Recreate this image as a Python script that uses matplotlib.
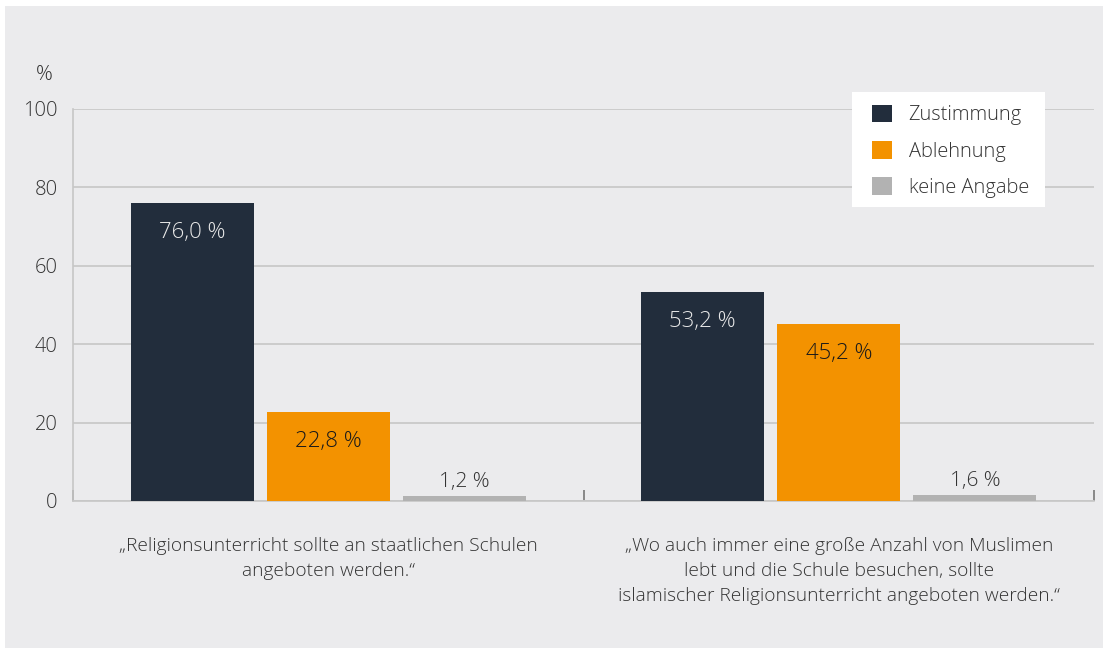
import numpy as np
import matplotlib.pyplot as plt
from matplotlib.patches import Patch, Rectangle

# Daten
kategorien = ['„Religionsunterricht sollte an staatlichen Schulen\nangeboten werden.“',
              '„Wo auch immer eine große Anzahl von Muslimen\nlebt und die Schule besuchen, sollte\nislamischer Religionsunterricht angeboten werden.“']
serien = ['Zustimmung', 'Ablehnung', 'keine Angabe']
zustimmung = [76.0, 53.2]
ablehnung = [22.8, 45.2]
keine_angabe = [1.2, 1.6]
werte = [zustimmung, ablehnung, keine_angabe]

farben = ['#222d3c', '#f39200', '#b2b2b2']
label_farben = ['#e8e8e8', '#1a1a1a', '#333333']
bg = '#ebebed'

plt.rcParams['font.family'] = ['Open Sans', 'DejaVu Sans']
plt.rcParams['font.weight'] = 'light'

fig = plt.figure(figsize=(11.03, 6.48), dpi=100)
fig.patch.set_facecolor('white')
fig.patches.append(Rectangle((5 / 1103, 0), 1, 1 - 6 / 648, transform=fig.transFigure,
                             facecolor=bg, edgecolor='none', zorder=-10))

ax = fig.add_axes([73 / 1103, 1 - 501 / 648, (1094 - 73) / 1103, (501 - 109) / 648])
ax.set_facecolor(bg)

x = np.arange(len(kategorien))
breite = 0.241
schritt = 0.2667

for i, (serie, vals) in enumerate(zip(serien, werte)):
    pos = x + (i - 1) * schritt
    ax.bar(pos, vals, width=breite, color=farben[i], label=serie, zorder=3)
    for p, v in zip(pos, vals):
        txt = f'{v:.1f} %'.replace('.', ',')
        if v > 10:
            ax.text(p, v - 7.5, txt, ha='center', va='center', fontsize=16,
                    color=label_farben[i], zorder=4)
        else:
            ax.text(p, v + 3.6, txt, ha='center', va='center', fontsize=15,
                    color=label_farben[i], zorder=4)

ax.set_xlim(-0.5, 1.5)
ax.set_ylim(0, 100)
ax.set_yticks(np.arange(0, 101, 20))
ax.yaxis.grid(True, color='#c6c6c6', linewidth=1.2, zorder=0)
ax.tick_params(axis='y', length=0, labelsize=14.5, labelcolor='#333333', pad=11)

ax.set_xticks([-0.5, 0.5, 1.5])
ax.set_xticklabels([])
ax.tick_params(axis='x', direction='in', length=8, width=1.2, color='#777777')

for s in ['top', 'right']:
    ax.spines[s].set_visible(False)
ax.spines['left'].set_color('#c6c6c6')
ax.spines['left'].set_linewidth(1.2)
ax.spines['bottom'].set_color('#c6c6c6')
ax.spines['bottom'].set_linewidth(1.2)

for xi, kat in zip(x, kategorien):
    ax.text(xi, -9.2, kat, ha='center', va='top', fontsize=13.8, color='#333333',
            linespacing=1.5, transform=ax.transData, clip_on=False)

ax.text(-0.028, 1.088, '%', transform=ax.transAxes, ha='center', va='center',
        fontsize=15, color='#333333')

# weisser Kasten hinter der Legende
ax.add_patch(Rectangle((852 / 1103, 1 - 207 / 648), 193 / 1103, 115 / 648,
                       transform=fig.transFigure, facecolor='white', edgecolor='none',
                       zorder=4.5, clip_on=False))

handles = [Patch(facecolor=c, edgecolor='none') for c in farben]
leg = ax.legend(handles, serien, loc='upper right', bbox_to_anchor=(0.948, 1.042),
                frameon=False, fontsize=14.4, handlelength=1.0,
                handleheight=1.0, labelspacing=0.78, handletextpad=0.85,
                borderpad=0.6, borderaxespad=0)
leg.set_zorder(5)
for t in leg.get_texts():
    t.set_color('#333333')

fig.savefig('out.png', dpi=100, facecolor=fig.get_facecolor())
